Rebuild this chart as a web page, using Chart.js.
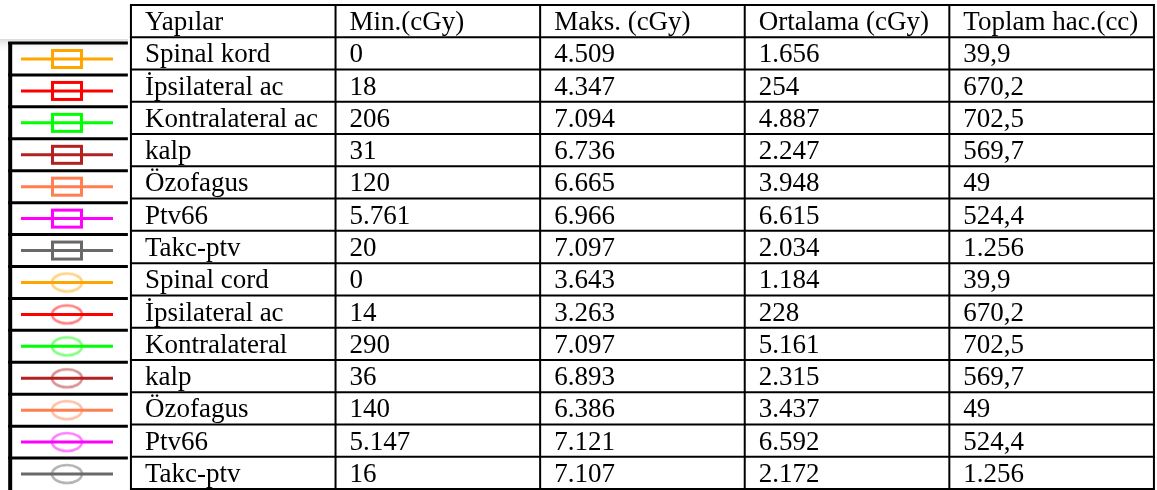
<!DOCTYPE html>
<html>
<head>
<meta charset="utf-8">
<script src="https://cdn.jsdelivr.net/npm/chart.js@4.4.0/dist/chart.umd.min.js"></script>
<style>
  html, body { margin: 0; padding: 0; background: #fff; }
  #wrap { width: 1157px; height: 490px; position: relative; }
</style>
</head>
<body>
<div id="wrap"><canvas id="doseTable"></canvas></div>
<script>
// Table content
const headers = ['Yapılar', 'Min.(cGy)', 'Maks. (cGy)', 'Ortalama (cGy)', 'Toplam hac.(cc)'];
const structures = ['Spinal kord', 'İpsilateral ac', 'Kontralateral ac', 'kalp', 'Özofagus', 'Ptv66', 'Takc-ptv',
                    'Spinal cord', 'İpsilateral ac', 'Kontralateral', 'kalp', 'Özofagus', 'Ptv66', 'Takc-ptv'];
const minDose  = [0, 18, 206, 31, 120, 5761, 20, 0, 14, 290, 36, 140, 5147, 16];
const maxDose  = [4509, 4347, 7094, 6736, 6665, 6966, 7097, 3643, 3263, 7097, 6893, 6386, 7121, 7107];
const meanDose = [1656, 254, 4887, 2247, 3948, 6615, 2034, 1184, 228, 5161, 2315, 3437, 6592, 2172];
const volumeCc = [39.9, 670.2, 702.5, 569.7, 49, 524.4, 1256, 39.9, 670.2, 702.5, 569.7, 49, 524.4, 1256];

// Legend symbols (first plan = boxes, second plan = ellipses)
const markerShapes = ['rect', 'rect', 'rect', 'rect', 'rect', 'rect', 'rect',
                      'ellipse', 'ellipse', 'ellipse', 'ellipse', 'ellipse', 'ellipse', 'ellipse'];
const structureColors = ['#FFA500', '#FF0000', '#00FF00', '#B22222', '#FF7F50', '#FF00FF', '#696969',
                         '#FFA500', '#FF0000', '#00FF00', '#B22222', '#FF7F50', '#FF00FF', '#696969'];

// Turkish number format: 4509 -> "4.509", 39.9 -> "39,9"
function fmtTr(v) {
  const parts = String(v).split('.');
  const intPart = parts[0].replace(/\B(?=(\d{3})+(?!\d))/g, '.');
  return parts.length > 1 ? intPart + ',' + parts[1] : intPart;
}

function makeMarker(shape, color) {
  const c = document.createElement('canvas');
  c.width = 36;
  c.height = 24;
  const g = c.getContext('2d');
  g.strokeStyle = color;
  if (shape === 'rect') {
    g.lineWidth = 3;
    g.strokeRect(3.5, 3.5, 29, 17);
  } else {
    g.globalAlpha = 0.5;
    g.lineWidth = 2.5;
    g.beginPath();
    g.ellipse(18, 12, 15, 9, 0, 0, Math.PI * 2);
    g.stroke();
  }
  return c;
}

const FONT = '27px "Liberation Serif", "Times New Roman", serif';

// Draws the legend frame, the table grid and the cell texts from the scales
const tablePlugin = {
  id: 'doseTable',
  beforeDatasetsDraw(chart) {
    const ctx = chart.ctx;
    const x = chart.scales.x;
    const yl = chart.scales.yLeg;
    const left = x.getPixelForValue(-0.6);
    const right = x.getPixelForValue(-0.015);
    ctx.save();
    // faint shade over the legend top
    const top = yl.getPixelForValue(0);
    const grad = ctx.createLinearGradient(0, top - 4, 0, top + 10);
    grad.addColorStop(0, 'rgba(215,215,215,0.9)');
    grad.addColorStop(1, 'rgba(255,255,255,0)');
    ctx.fillStyle = grad;
    ctx.fillRect(0, top - 4, right, 14);

    ctx.strokeStyle = '#000';
    ctx.lineWidth = 3;
    for (let k = 0; k < structures.length; k++) {
      const py = yl.getPixelForValue(k);
      ctx.beginPath();
      ctx.moveTo(left, py);
      ctx.lineTo(right, py);
      ctx.stroke();
    }
    ctx.lineWidth = 4;
    ctx.beginPath();
    ctx.moveTo(left + 2, top - 1);
    ctx.lineTo(left + 2, chart.height);
    ctx.stroke();
    ctx.restore();
  },
  afterDatasetsDraw(chart) {
    const ctx = chart.ctx;
    const x = chart.scales.x;
    const y = chart.scales.y;
    const nRows = structures.length;
    ctx.save();
    ctx.strokeStyle = '#000';
    ctx.lineWidth = 2;
    for (let r = -1; r <= nRows; r++) {
      const py = y.getPixelForValue(r);
      ctx.beginPath();
      ctx.moveTo(x.getPixelForValue(0) - 1, py);
      ctx.lineTo(x.getPixelForValue(headers.length) + 1, py);
      ctx.stroke();
    }
    for (let c = 0; c <= headers.length; c++) {
      const px = x.getPixelForValue(c);
      ctx.beginPath();
      ctx.moveTo(px, y.getPixelForValue(-1));
      ctx.lineTo(px, y.getPixelForValue(nRows));
      ctx.stroke();
    }

    ctx.fillStyle = '#000';
    ctx.font = FONT;
    ctx.textAlign = 'left';
    ctx.textBaseline = 'alphabetic';
    const drawRow = (r, cells) => {
      const py = y.getPixelForValue(r + 0.5) + 9;
      cells.forEach((txt, c) => {
        ctx.fillText(txt, x.getPixelForValue(c) + 14, py);
      });
    };
    drawRow(-1, headers);
    for (let r = 0; r < nRows; r++) {
      drawRow(r, [structures[r], fmtTr(minDose[r]), fmtTr(maxDose[r]), fmtTr(meanDose[r]), fmtTr(volumeCc[r])]);
    }
    ctx.restore();
  }
};

// One small line per structure: line from slot 0 to 2, marker at slot 1
const legendSets = structures.map((name, i) => ({
  label: name,
  xAxisID: 'xLeg',
  yAxisID: 'yLeg',
  data: [0, 1, 2].map(slot => ({ x: slot, y: i + 0.5 })),
  borderColor: structureColors[i],
  borderWidth: 3,
  pointRadius: [0, 10, 0],
  pointStyle: makeMarker(markerShapes[i], structureColors[i]),
  tension: 0,
  fill: false
}));

new Chart(document.getElementById('doseTable'), {
  type: 'line',
  data: { datasets: legendSets },
  options: {
    responsive: true,
    maintainAspectRatio: false,
    animation: false,
    events: [],
    layout: { padding: 0 },
    plugins: { legend: { display: false }, tooltip: { enabled: false } },
    scales: {
      x:    { type: 'linear', axis: 'x', position: 'bottom', min: -0.64, max: 5.015, display: false },
      y:    { type: 'linear', axis: 'y', position: 'left', min: -1.155, max: 14.031, reverse: true, display: false },
      xLeg: { type: 'linear', axis: 'x', position: 'bottom', min: -0.4565, max: 24.7, display: false },
      yLeg: { type: 'linear', axis: 'y', position: 'left', min: -1.347, max: 14, reverse: true, display: false }
    }
  },
  plugins: [tablePlugin]
});
</script>
</body>
</html>
